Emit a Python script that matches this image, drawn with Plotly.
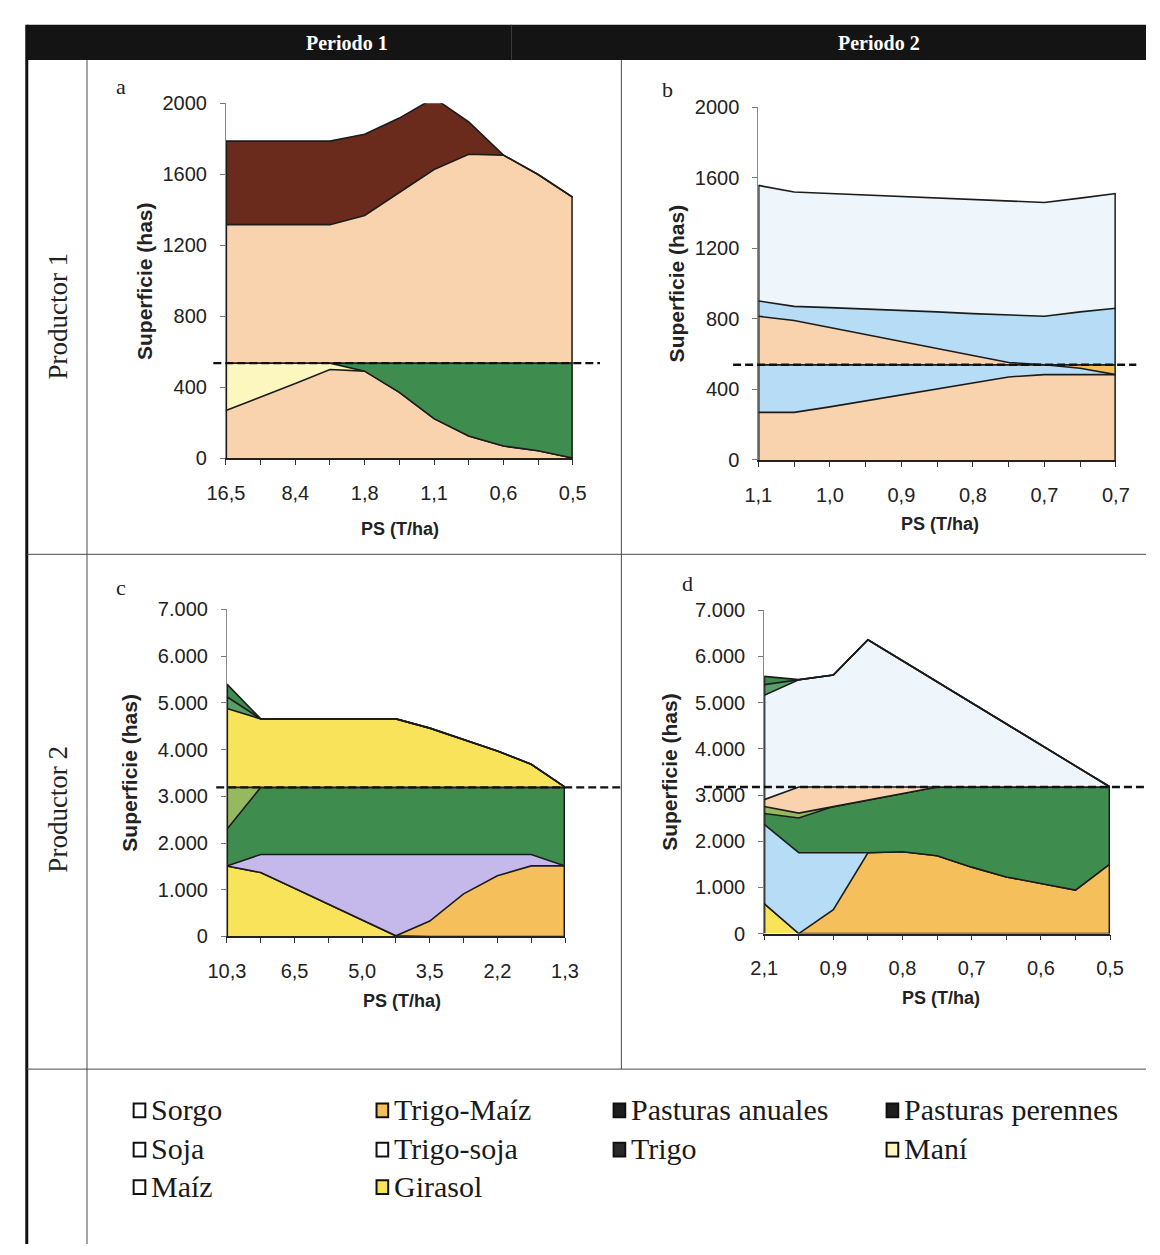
import plotly.graph_objects as go

W, H = 1160, 1255

# Eleven PS categories per panel; only every other one carries a label
IDX = list(range(11))

ps_labels_a = ["16,5", "8,4", "1,8", "1,1", "0,6", "0,5"]
ps_labels_b = ["1,1", "1,0", "0,9", "0,8", "0,7", "0,7"]
ps_labels_c = ["10,3", "6,5", "5,0", "3,5", "2,2", "1,3"]
ps_labels_d = ["2,1", "0,9", "0,8", "0,7", "0,6", "0,5"]

sup_ticks_p1 = [0, 400, 800, 1200, 1600, 2000]
sup_labels_p1 = ["0", "400", "800", "1200", "1600", "2000"]
sup_ticks_p2 = [0, 1000, 2000, 3000, 4000, 5000, 6000, 7000]
sup_labels_p2 = ["0", "1.000", "2.000", "3.000", "4.000", "5.000", "6.000", "7.000"]

# Productor 1 - Periodo 1 (has), stacked from the bottom
a_soja_bajo = [268, 342, 420, 499, 490, 370, 222, 124, 68, 41, 0]
a_mani = [267, 193, 115, 36, 0, 0, 0, 0, 0, 0, 0]
a_perennes_bajo = [0, 0, 0, 0, 45, 165, 313, 411, 467, 494, 535]
a_soja_alto = [781, 781, 781, 781, 833, 962, 1092, 1178, 1173, 1064, 935]
a_trigo = [471, 471, 471, 471, 458, 420, 403, 182, 0, 0, 0]
a_limite = 535

# Productor 1 - Periodo 2
b_soja_bajo = [270, 270, 301, 335, 368, 406, 437, 471, 484, 484, 484]
b_trigosoja_bajo = [270, 270, 239, 205, 172, 134, 103, 69, 56, 36, 0]
b_trigomaiz = [0, 0, 0, 0, 0, 0, 0, 0, 0, 20, 56]
b_soja_alto = [275, 251, 211, 171, 132, 92, 53, 13, 0, 0, 0]
b_trigosoja_alto = [87, 80, 113, 146, 177, 208, 237, 269, 275, 300, 320]
b_sorgo = [655, 649, 647, 645, 645, 645, 647, 646, 645, 645, 651]
b_limite = 540

# Productor 2 - Periodo 1
c_girasol_bajo = [1510, 1369, 1032, 695, 351, 14, 0, 0, 0, 0, 0]
c_trigomaiz = [0, 0, 0, 0, 0, 0, 330, 913, 1299, 1510, 1510]
c_maiz = [0, 386, 723, 1060, 1404, 1741, 1425, 842, 456, 245, 0]
c_perennes_bajo = [786, 1435, 1435, 1435, 1435, 1435, 1435, 1435, 1435, 1435, 1680]
c_anuales_bajo = [894, 0, 0, 0, 0, 0, 0, 0, 0, 0, 0]
c_girasol_alto = [1690, 1465, 1465, 1465, 1465, 1465, 1268, 1023, 777, 496, 5]
c_anuales_alto = [250, 0, 0, 0, 0, 0, 0, 0, 0, 0, 0]
c_perennes_alto = [270, 0, 0, 0, 0, 0, 0, 0, 0, 0, 0]
c_limite = 3190

# Productor 2 - Periodo 2
d_girasol = [650, 0, 0, 0, 0, 0, 0, 0, 0, 0, 0]
d_trigomaiz = [0, 0, 517, 1750, 1771, 1686, 1438, 1226, 1084, 942, 1509]
d_trigosoja = [1716, 1750, 1233, 0, 0, 0, 0, 0, 0, 0, 0]
d_perennes_bajo = [234, 751, 999, 1141, 1261, 1488, 1736, 1948, 2090, 2232, 1665]
d_anuales_bajo = [150, 106, 0, 0, 0, 0, 0, 0, 0, 0, 0]
d_soja = [150, 567, 425, 283, 142, 0, 0, 0, 0, 0, 0]
d_sorgo = [2258, 2324, 2423, 3188, 2733, 2277, 1822, 1367, 911, 456, 0]
d_perennes_alto = [232, 0, 0, 0, 0, 0, 0, 0, 0, 0, 0]
d_anuales_alto = [180, 0, 0, 0, 0, 0, 0, 0, 0, 0, 0]
d_limite = 3174

PEACH = "#F9D3AE"
BROWN = "#6A2A1C"
MANI = "#FCF7BF"
DKGREEN = "#3F8C4F"
LTGREEN = "#94B95E"
MDGREEN = "#58A067"
YELLOW = "#F8E35B"
ORANGE = "#F5BF5C"
LAVENDER = "#C4B9EA"
LTBLUE = "#B7DCF5"
PALEBLUE = "#EEF6FC"
EDGE = "#1c1c1c"

SANS = "Liberation Sans, Arial, sans-serif"
SERIF = "Liberation Serif, Times New Roman, serif"


def fx(p):
    return p / W


def fy(p):
    return 1 - p / H


def note(text, x, y, size, family, color="#222", angle=0, xanchor="center"):
    return dict(text=text, x=fx(x), y=fy(y), xref="paper", yref="paper",
                xanchor=xanchor, yanchor="middle", showarrow=False, textangle=angle,
                font=dict(family=family, size=size, color=color))


panels = [
    dict(n="", xd=(213, 570), yd=(94, 455), ymax=2000, tv=sup_ticks_p1, tt=sup_labels_p1,
         ps=ps_labels_a, limite=a_limite, dash=(200, 598), letter="a", lpos=(105, 77),
         ytx=129, xt=(392, 527),
         layers=[("Soja", a_soja_bajo, PEACH), ("Maní", a_mani, MANI),
                 ("Pasturas perennes", a_perennes_bajo, DKGREEN),
                 ("Soja", a_soja_alto, PEACH), ("Trigo", a_trigo, BROWN)]),
    dict(n="2", xd=(761, 1129), yd=(98, 457), ymax=2000, tv=sup_ticks_p1, tt=sup_labels_p1,
         ps=ps_labels_b, limite=b_limite, dash=(735, 1150), letter="b", lpos=(668, 80),
         ytx=677, xt=(948, 522),
         layers=[("Soja", b_soja_bajo, PEACH), ("Trigo-soja", b_trigosoja_bajo, LTBLUE),
                 ("Trigo-Maíz", b_trigomaiz, ORANGE), ("Soja", b_soja_alto, PEACH),
                 ("Trigo-soja", b_trigosoja_alto, LTBLUE), ("Sorgo", b_sorgo, PALEBLUE)]),
    dict(n="3", xd=(214, 562), yd=(609, 942), ymax=7000, tv=sup_ticks_p2, tt=sup_labels_p2,
         ps=ps_labels_c, limite=c_limite, dash=(203, 620), letter="c", lpos=(105, 587),
         ytx=114, xt=(394, 1008),
         layers=[("Girasol", c_girasol_bajo, YELLOW), ("Trigo-Maíz", c_trigomaiz, ORANGE),
                 ("Maíz", c_maiz, LAVENDER), ("Pasturas perennes", c_perennes_bajo, DKGREEN),
                 ("Pasturas anuales", c_anuales_bajo, LTGREEN), ("Girasol", c_girasol_alto, YELLOW),
                 ("Pasturas anuales", c_anuales_alto, MDGREEN),
                 ("Pasturas perennes", c_perennes_alto, DKGREEN)]),
    dict(n="4", xd=(767, 1123), yd=(610, 939), ymax=7000, tv=sup_ticks_p2, tt=sup_labels_p2,
         ps=ps_labels_d, limite=d_limite, dash=(705, 1160), letter="d", lpos=(688, 583),
         ytx=670, xt=(949, 1005),
         layers=[("Girasol", d_girasol, YELLOW), ("Trigo-Maíz", d_trigomaiz, ORANGE),
                 ("Trigo-soja", d_trigosoja, LTBLUE), ("Pasturas perennes", d_perennes_bajo, DKGREEN),
                 ("Pasturas anuales", d_anuales_bajo, LTGREEN), ("Soja", d_soja, PEACH),
                 ("Sorgo", d_sorgo, PALEBLUE), ("Pasturas perennes", d_perennes_alto, MDGREEN),
                 ("Pasturas anuales", d_anuales_alto, DKGREEN)]),
]

fig = go.Figure()
shapes = []
annotations = []
layout_axes = {}

for p in panels:
    xa, ya = "x" + p["n"], "y" + p["n"]
    for name, vals, color in p["layers"]:
        fig.add_trace(go.Scatter(
            x=IDX, y=vals, name=name, stackgroup="g" + xa, mode="lines",
            line=dict(color=EDGE, width=1.6, shape="linear"), fillcolor=color,
            xaxis=xa, yaxis=ya, showlegend=False, hoverinfo="skip"))
    # outline of the stacked block at the first and last category
    tot_first = sum(v[0] for _, v, _ in p["layers"])
    tot_last = sum(v[-1] for _, v, _ in p["layers"])
    fig.add_trace(go.Scatter(x=[0, 0], y=[0, tot_first], mode="lines",
                             line=dict(color=EDGE, width=2.4), xaxis=xa, yaxis=ya,
                             showlegend=False, hoverinfo="skip"))
    fig.add_trace(go.Scatter(x=[IDX[-1], IDX[-1]], y=[0, tot_last], mode="lines",
                             line=dict(color=EDGE, width=3), xaxis=xa, yaxis=ya,
                             showlegend=False, hoverinfo="skip"))

    ticktext = [p["ps"][i // 2] if i % 2 == 0 else "" for i in IDX]
    layout_axes["xaxis" + p["n"]] = dict(
        domain=[fx(p["xd"][0]), fx(p["xd"][1])], range=[0, IDX[-1]], anchor=ya,
        tickvals=IDX, ticktext=ticktext, ticks="outside", ticklen=5, tickcolor="#333",
        tickwidth=1, showline=True, linecolor="#222", linewidth=1.5, showgrid=False,
        zeroline=False, ticklabelstandoff=11,
        tickfont=dict(family=SANS, size=20, color="#222"), fixedrange=True)
    layout_axes["yaxis" + p["n"]] = dict(
        domain=[fy(p["yd"][1]), fy(p["yd"][0])], range=[0, p["ymax"]], anchor=xa,
        tickvals=p["tv"], ticktext=p["tt"], ticks="outside", ticklen=5, tickcolor="#777",
        tickwidth=1, showline=True, linecolor="#8a8a8a", linewidth=1, showgrid=False,
        zeroline=False, ticklabelstandoff=9,
        tickfont=dict(family=SANS, size=20, color="#222"), fixedrange=True)

    # dashed limit line
    shapes.append(dict(type="line", xref="paper", yref=ya, x0=fx(p["dash"][0]),
                       x1=fx(p["dash"][1]), y0=p["limite"], y1=p["limite"],
                       line=dict(color="#111", width=2.4, dash="8px,4px"), layer="above"))
    ymid = (p["yd"][0] + p["yd"][1]) / 2
    annotations.append(note(p["letter"], p["lpos"][0], p["lpos"][1], 22, SERIF))
    annotations.append(note("<b>Superficie (has)</b>", p["ytx"], ymid, 21, SANS, angle=-90))
    annotations.append(note("<b>PS (T/ha)</b>", p["xt"][0], p["xt"][1], 18, SANS))

# table frame
GRID = "#4a4a4a"
shapes += [
    dict(type="rect", xref="paper", yref="paper", x0=fx(8), x1=fx(1160), y0=fy(50), y1=fy(14),
         fillcolor="#141414", line=dict(width=0), layer="below"),
    dict(type="line", xref="paper", yref="paper", x0=fx(507), x1=fx(507), y0=fy(50), y1=fy(14),
         line=dict(color="#3c3c3c", width=1)),
    dict(type="line", xref="paper", yref="paper", x0=fx(8), x1=fx(8), y0=fy(1255), y1=fy(14),
         line=dict(color="#111", width=3)),
    dict(type="line", xref="paper", yref="paper", x0=fx(70), x1=fx(70), y0=fy(1255), y1=fy(50),
         line=dict(color=GRID, width=1)),
    dict(type="line", xref="paper", yref="paper", x0=fx(620), x1=fx(620), y0=fy(1077), y1=fy(50),
         line=dict(color=GRID, width=1)),
    dict(type="line", xref="paper", yref="paper", x0=fx(8), x1=fx(1160), y0=fy(553), y1=fy(553),
         line=dict(color=GRID, width=1)),
    dict(type="line", xref="paper", yref="paper", x0=fx(8), x1=fx(1160), y0=fy(1077), y1=fy(1077),
         line=dict(color=GRID, width=1)),
]

annotations += [
    note("<b>Periodo 1</b>", 338, 33, 20, SERIF, color="white"),
    note("<b>Periodo 2</b>", 885, 33, 20, SERIF, color="white"),
    note("Productor 1", 40, 310, 27, SERIF, angle=-90),
    note("Productor 2", 40, 812, 27, SERIF, angle=-90),
]

# crop key
legend_items = [
    ("Sorgo", "#FFFFFF", 118, 1118), ("Soja", "#FFFFFF", 118, 1158), ("Maíz", "#FFFFFF", 118, 1196),
    ("Trigo-Maíz", ORANGE, 368, 1118), ("Trigo-soja", "#FFFFFF", 368, 1158),
    ("Girasol", YELLOW, 368, 1196),
    ("Pasturas anuales", "#1e1e1e", 612, 1118), ("Trigo", "#2a2a2a", 612, 1158),
    ("Pasturas perennes", "#1e1e1e", 893, 1118), ("Maní", MANI, 893, 1158),
]
for label, color, lx, ly in legend_items:
    shapes.append(dict(type="rect", xref="paper", yref="paper", x0=fx(lx), x1=fx(lx + 12),
                       y0=fy(ly + 8), y1=fy(ly - 6), fillcolor=color,
                       line=dict(color="#111", width=2)))
    annotations.append(note(label, lx + 16, ly, 30, SERIF, color="#1a1a1a", xanchor="left"))

fig.update_layout(
    width=W, height=H, autosize=False,
    margin=dict(l=0, r=0, t=0, b=0, pad=0),
    paper_bgcolor="white", plot_bgcolor="white",
    showlegend=False, shapes=shapes, annotations=annotations,
    **layout_axes,
)

fig.write_html("out.html", post_script="document.body.style.margin='0';")
